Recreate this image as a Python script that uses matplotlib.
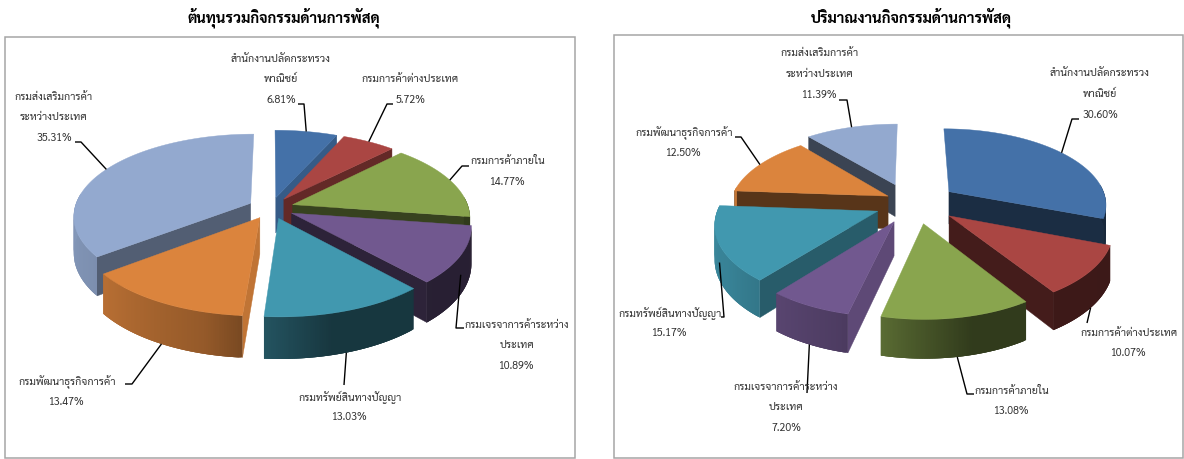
# -*- coding: utf-8 -*-
"""
Two exploded 3-D pies of logistics activity, drawn by hand on a pixel axes
"""
import numpy as np
import matplotlib
matplotlib.use('Agg')
import matplotlib.pyplot as plt
from matplotlib.colors import to_rgb

plt.rcParams['font.family'] = ['Sarabun', 'Loma', 'DejaVu Sans']

# data
names = [['สำนักงานปลัดกระทรวง', 'พาณิชย์'],
         ['กรมการค้าต่างประเทศ'],
         ['กรมการค้าภายใน'],
         ['กรมเจรจาการค้าระหว่าง', 'ประเทศ'],
         ['กรมทรัพย์สินทางปัญญา'],
         ['กรมพัฒนาธุรกิจการค้า'],
         ['กรมส่งเสริมการค้า', 'ระหว่างประเทศ']]
cost_values = [6.81, 5.72, 14.77, 10.89, 13.03, 13.47, 35.31]
volume_values = [30.60, 10.07, 13.08, 7.20, 15.17, 12.50, 11.39]
cost_title = 'ต้นทุนรวมกิจกรรมด้านการพัสดุ'
volume_title = 'ปริมาณงานกิจกรรมด้านการพัสดุ'

# styles
colors = ['#4471A8', '#AA4643', '#89A54E', '#71588F', '#4198AF', '#DB843D',
          '#93A9CF']
k = 0.15  # perspective strength

# geometry and label layout, in picture pixels
left_geom = dict(cx=271, cy=208, rx=176, ry=83, h=36,
                 expl=[.13, .13, .13, .13, .13, .13, .13],
                 nudge=[0, 0, 0, 0, 0, 0, 0])
right_geom = dict(cx=916, cy=203, rx=158, ry=78, h=33,
                  expl=[.26, .26, .26, .26, .26, .20, .26],
                  nudge=[0, 0, 0, -3, 0, 0, -7])
left_labels = [(281, 59), (410, 80), (508, 162), (517, 325), (350, 397),
               (67, 382), (54, 97)]
right_labels = [(1100, 74), (1129, 333), (1012, 391), (786, 387), (670, 313),
                (684, 133), (820, 54)]
left_leaders = [[(304, 104), (298, 104)], [(387, 104), (393, 104)],
                [(462, 166), (469, 166)], [(456, 328), (464, 328)],
                [(344, 385)], [(132, 384), (125, 384)], [(81, 142), (75, 142)]]
right_leaders = [[(1072, 119), (1079, 119)], [(1087, 323)],
                 [(967, 394), (974, 394)], [(807, 393)],
                 [(724, 317), (721, 317)], [(741, 137), (735, 137)],
                 [(847, 100), (839, 100)]]


def _project(g, x, y, z=0., nudge=0):
    """Disk coordinates (y towards the viewer) to picture pixels"""
    p = 1 + k * y
    return (g['cx'] + nudge + g['rx'] * x * p,
            g['cy'] + (g['ry'] * y + g['h'] * z) * p)


def _shade(color, s):
    return tuple(c * s for c in to_rgb(color))


def _wall_shade(phi):
    return np.interp(phi, [90, 105, 115, 130, 145, 185, 240],
                     [.9, .82, .8, .6, .55, .4, .4])


def _outer_shade(phi):
    return np.interp(phi, [90, 146, 165, 184, 195, 235, 270],
                     [.35, .36, .36, .55, .68, .85, .9])


def _draw_slice(ax, g, a0, a1, expl, nudge, color, z):
    """Walls first, then the top face, all for angles a0..a1 clockwise from 12"""
    mid = np.radians((a0 + a1) / 2)
    ox, oy = expl * np.sin(mid), -expl * np.cos(mid)
    ang = np.linspace(a0, a1, max(int(a1 - a0) * 2, 4))
    xs = ox + np.sin(np.radians(ang))
    ys = oy - np.cos(np.radians(ang))

    # radial walls, only those facing the viewer
    for a, phi in [(a0, a0 - 90), (a1, a1 + 90)]:
        if -np.cos(np.radians(phi)) > 0:
            ex, ey = ox + np.sin(np.radians(a)), oy - np.cos(np.radians(a))
            qx, qy = zip(_project(g, ox, oy, 0, nudge),
                         _project(g, ex, ey, 0, nudge),
                         _project(g, ex, ey, 1, nudge),
                         _project(g, ox, oy, 1, nudge))
            col = _shade(color, _wall_shade(phi % 360))
            ax.fill(qx, qy, fc=col, ec=col, lw=.3, zorder=z)

    # curved outer wall as strips that overlap the next one, so no seams show
    for j in range(len(ang) - 1):
        if np.cos(np.radians(ang[j])) < 0.1:
            n = min(j + 3, len(ang) - 1)
            qx, qy = zip(_project(g, xs[j], ys[j], 0, nudge),
                         _project(g, xs[n], ys[n], 0, nudge),
                         _project(g, xs[n], ys[n], 1, nudge),
                         _project(g, xs[j], ys[j], 1, nudge))
            col = _shade(color, _outer_shade(ang[j]))
            ax.fill(qx, qy, fc=col, lw=0, zorder=z + .1)

    px, py = _project(g, np.r_[ox, xs], np.r_[oy, ys], 0, nudge)
    ax.fill(px, py, fc=color, ec=color, lw=.3, zorder=z + .2)


def _anchor(g, a0, a1, expl, nudge):
    """Where a leader line leaves a slice"""
    mid = np.radians((a0 + a1) / 2)
    x = (1 + expl) * np.sin(mid)
    y = -(1 + expl) * np.cos(mid)
    z = 0. if y < 0.3 else (.5 if y < .55 else 1.)
    return _project(g, x, y, z, nudge)


def plot_pie(ax, g, values, title, title_x, label_pos, leaders):
    edges = np.r_[0, np.cumsum(values)] * 360. / np.sum(values)
    mids = np.radians((edges[:-1] + edges[1:]) / 2)
    order = np.argsort(-np.cos(mids))
    for rank, i in enumerate(order):
        _draw_slice(ax, g, edges[i], edges[i + 1], g['expl'][i], g['nudge'][i],
                    colors[i], 2 + rank)
    for i, val in enumerate(values):
        lx, ly = label_pos[i]
        lines = names[i] + ['%.2f%%' % val]
        for n, line in enumerate(lines):
            ax.text(lx, ly + n * 20.6, line, ha='center', va='center',
                    fontsize=7.7, color='#303030', zorder=30)
        start = _anchor(g, edges[i], edges[i + 1], g['expl'][i], g['nudge'][i])
        pts = [start] + leaders[i]
        ax.plot(*zip(*pts), color='k', lw=1, zorder=29, solid_capstyle='butt')
    ax.text(title_x, 18, title, ha='center', va='center', fontsize=10.7,
            fontweight='bold', color='k')


fig = plt.figure(figsize=(11.84, 4.59), dpi=100, facecolor='white')
ax = fig.add_axes([0, 0, 1, 1])
ax.set_xlim(0, 1184)
ax.set_ylim(459, 0)
ax.axis('off')

ax.add_patch(plt.Rectangle((5, 37), 570, 421, fc='white', ec='#a6a6a6', lw=1.1))
ax.add_patch(plt.Rectangle((614, 35), 569, 423, fc='white', ec='#a6a6a6', lw=1.1))

plot_pie(ax, left_geom, cost_values, cost_title, 284, left_labels, left_leaders)
plot_pie(ax, right_geom, volume_values, volume_title, 911, right_labels,
         right_leaders)

fig.savefig('out.png', dpi=100)
